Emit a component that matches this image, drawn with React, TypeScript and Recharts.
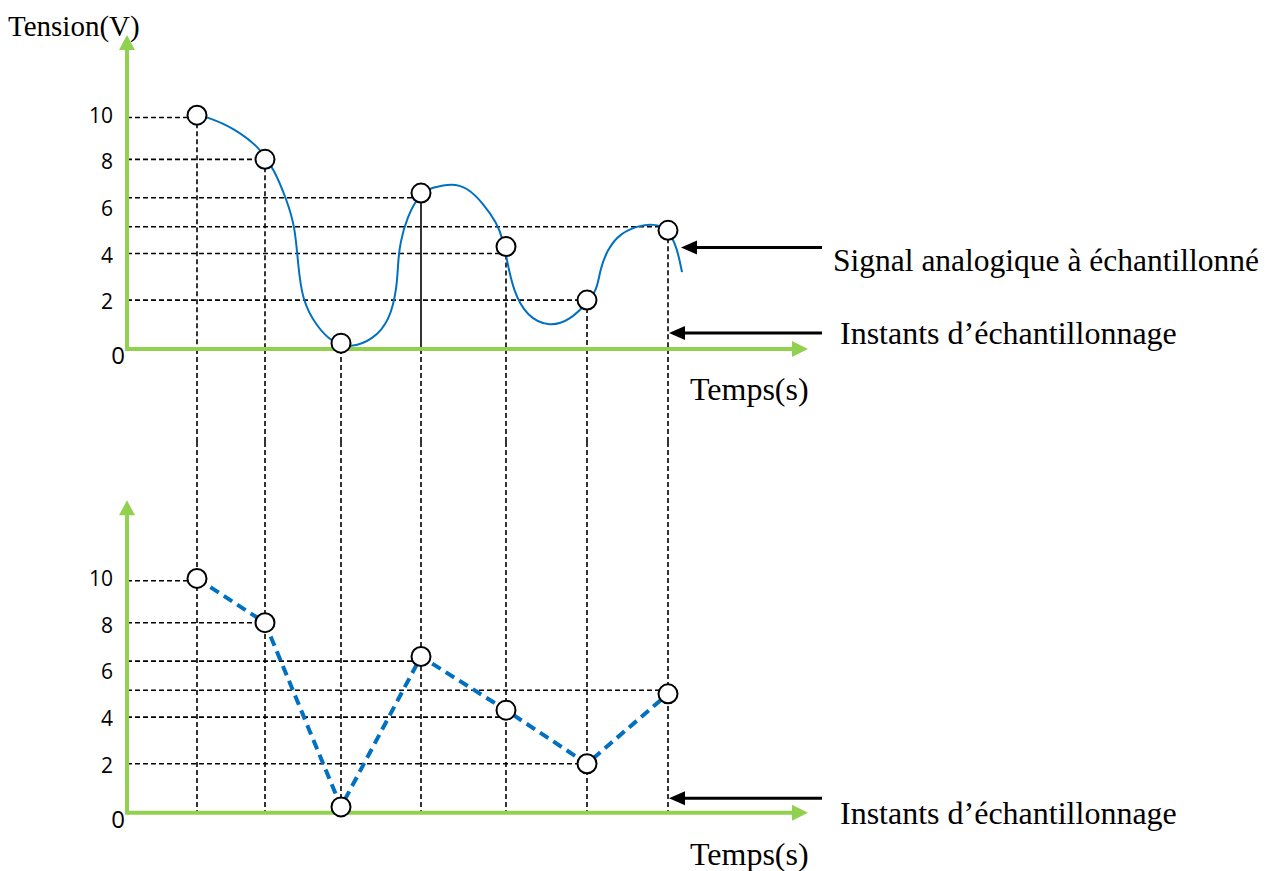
import React from "react";
import { ComposedChart, XAxis, YAxis, Line, Scatter, ReferenceLine, ReferenceDot } from "recharts";

// instants d'échantillonnage (unité arbitraire) et tensions échantillonnées
const sampleTimes = [7, 13.8, 21.4, 29.4, 37.9, 46, 54.1];
const sampleValues = [10.05, 8.15, 0.25, 6.7, 4.4, 2.1, 5.1];
// niveau des pointillés horizontaux (null = pas de ligne)
const dashLevels = [9.95, 8.15, null, 6.5, 4.1, 2.1, 5.25];
// le 4e trait vertical est plein dans le graphe du haut
const solidTop = [false, false, false, true, false, false, false];

// signal analogique
const curveTimes = [
  7, 8, 10.6, 13.3, 13.8, 14.6, 16, 16.8, 17.1, 17.5, 19, 20.6, 22.3, 24.6, 26.3, 27, 27.1, 27.3, 28, 29.3,
  30.6, 32.5, 34, 35.6, 37, 37.6, 38, 38.6, 40, 42.3, 44.3, 46, 47, 47.3, 48, 49.3, 51.3, 52.6, 54, 55, 55.5,
];
const curveValues = [
  10.09, 9.96, 9.53, 8.63, 8.2, 7.81, 6.39, 5.24, 3.69, 2.1, 0.94, 0.26, 0.04, 0.39, 1.24, 2.66, 3.69, 4.55, 5.67, 6.7,
  6.95, 7.12, 6.95, 6.27, 5.41, 4.68, 3.82, 2.53, 1.37, 0.94, 1.24, 1.97, 2.53, 3.39, 4.25, 4.98, 5.32, 5.36, 5.24, 4.38, 3.3,
];

const yTicks = [0, 2, 4, 6, 8, 10];
const tMax = 115;

const GREEN = "#92D050";
const BLUE = "#0070C0";

const samples = sampleTimes.map((t, i) => ({ t, v: sampleValues[i] }));
const curve = curveTimes.map((t, i) => ({ t, v: curveValues[i] }));

const renderTick = (props: any) => {
  const { y, payload } = props;
  const isZero = payload.value === 0;
  return (
    <text
      x={isZero ? 125 : 113}
      y={isZero ? y + 9 : y + 1}
      textAnchor="end"
      dominantBaseline="middle"
      fontFamily="'Open Sans', sans-serif"
      fontSize={isZero ? 24 : 21}
      fill="#000"
    >
      {payload.value}
    </text>
  );
};

const upArrow = (props: any) => (
  <polygon points={`${props.cx},${props.cy} ${props.cx - 8},${props.cy + 15} ${props.cx + 8},${props.cy + 15}`} fill={GREEN} />
);
const rightArrow = (props: any) => (
  <polygon points={`${props.cx},${props.cy} ${props.cx - 16},${props.cy - 8} ${props.cx - 16},${props.cy + 8}`} fill={GREEN} />
);
const leftArrow = (props: any) => (
  <polygon points={`${props.cx},${props.cy} ${props.cx + 16},${props.cy - 7} ${props.cx + 16},${props.cy + 7}`} fill="#000" />
);
const ring = (props: any) => <circle cx={props.cx} cy={props.cy} r={9.5} fill="#fff" stroke="#000" strokeWidth={2} />;

const axes = (yTop: number) => [
  <ReferenceLine key="ax" segment={[{ x: 0, y: 0 }, { x: 66.6, y: 0 }]} stroke={GREEN} strokeWidth={4} />,
  <ReferenceLine key="ay" segment={[{ x: 0, y: -0.08 }, { x: 0, y: yTop - 0.6 }]} stroke={GREEN} strokeWidth={4} />,
  <ReferenceDot key="axh" x={68.1} y={0} shape={rightArrow} />,
  <ReferenceDot key="ayh" x={0} y={yTop} shape={upArrow} />,
];

const hLines = () =>
  sampleTimes.map((t, i) =>
    dashLevels[i] === null ? null : (
      <ReferenceLine
        key={"h" + i}
        segment={[{ x: 0, y: dashLevels[i] as number }, { x: t, y: dashLevels[i] as number }]}
        stroke="#000"
        strokeWidth={1.6}
        strokeDasharray="5 3"
        ifOverflow="visible"
      />
    )
  );

const pointer = (key: string, tip: number, v: number) => [
  <ReferenceLine key={key + "l"} segment={[{ x: tip + 1, y: v }, { x: 69.5, y: v }]} stroke="#000" strokeWidth={3} />,
  <ReferenceDot key={key + "h"} x={tip} y={v} shape={leftArrow} />,
];

const serif = "'Liberation Serif', 'Times New Roman', serif";
const txt = (left: number, top: number, size: number, s: string) => (
  <span
    style={{ position: "absolute", left, top, fontFamily: serif, fontSize: size, lineHeight: 1, whiteSpace: "nowrap", color: "#000" }}
  >
    {s}
  </span>
);

export default function App() {
  return (
    <div style={{ position: "absolute", left: 0, top: 0, width: 1277, height: 871, background: "#fff", overflow: "hidden" }}>
      <div style={{ position: "absolute", left: 0, top: 0 }}>
        <ComposedChart width={1277} height={442} margin={{ top: 0, right: 0, bottom: 0, left: 0 }}>
          <XAxis type="number" dataKey="t" domain={[0, tMax]} hide />
          <YAxis type="number" dataKey="v" domain={[-4, 15]} width={127} ticks={yTicks} tick={renderTick} axisLine={false} tickLine={false} />
          {hLines()}
          {sampleTimes.map((t, i) => (
            <ReferenceLine key={"va" + i} segment={[{ x: t, y: sampleValues[i] }, { x: t, y: 0 }]} stroke="#000" strokeWidth={1.6} strokeDasharray={solidTop[i] ? undefined : "5 3"} />
          ))}
          {sampleTimes.map((t, i) => (
            <ReferenceLine key={"vb" + i} segment={[{ x: t, y: 0 }, { x: t, y: -4 }]} stroke="#000" strokeWidth={1.6} strokeDasharray="5 3" />
          ))}
          {axes(13.5)}
          <Line data={curve} dataKey="v" type="basis" stroke={BLUE} strokeWidth={2} dot={false} isAnimationActive={false} />
          <Scatter data={samples} dataKey="v" shape={ring} isAnimationActive={false} />
          {pointer("sig", 55.4, 4.36)}
          {pointer("ins", 54.2, 0.69)}
        </ComposedChart>
      </div>
      <div style={{ position: "absolute", left: 0, top: 442 }}>
        <ComposedChart width={1277} height={429} margin={{ top: 0, right: 0, bottom: 0, left: 0 }}>
          <XAxis type="number" dataKey="t" domain={[0, tMax]} hide />
          <YAxis type="number" dataKey="v" domain={[-2.5, 15.9]} width={127} ticks={yTicks} tick={renderTick} axisLine={false} tickLine={false} />
          {hLines()}
          {sampleTimes.map((t, i) => (
            <ReferenceLine key={"v" + i} segment={[{ x: t, y: 15.9 }, { x: t, y: 0 }]} stroke="#000" strokeWidth={1.6} strokeDasharray="5 3" />
          ))}
          {axes(13.4)}
          <Scatter data={samples} dataKey="v" shape={ring} isAnimationActive={false} />
          <Line data={samples} dataKey="v" type="linear" stroke={BLUE} strokeWidth={4} strokeDasharray="10 6" dot={false} isAnimationActive={false} />
          {pointer("ins2", 54.2, 0.62)}
        </ComposedChart>
      </div>
      {txt(8, 12, 29, "Tension(V)")}
      {txt(690, 373, 32, "Temps(s)")}
      {txt(690, 838, 32, "Temps(s)")}
      {txt(833, 245, 31.5, "Signal analogique à échantillonné")}
      {txt(840, 317, 32, "Instants d’échantillonnage")}
      {txt(840, 797, 32, "Instants d’échantillonnage")}
    </div>
  );
}
